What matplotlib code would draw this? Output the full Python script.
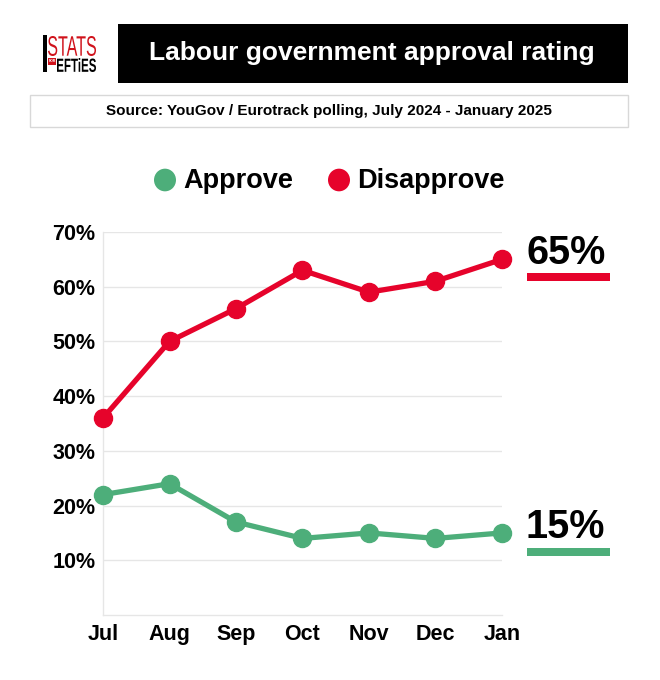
import matplotlib
matplotlib.use("Agg")
import matplotlib.pyplot as plt
from matplotlib.patches import Rectangle, PathPatch
from matplotlib.textpath import TextPath
from matplotlib.font_manager import FontProperties
from matplotlib.transforms import blended_transform_factory, Affine2D, IdentityTransform

months = ["Jul", "Aug", "Sep", "Oct", "Nov", "Dec", "Jan"]
approve = [22, 24, 17, 14, 15, 14, 15]
disapprove = [36, 50, 56, 63, 59, 61, 65]
yticks = [10, 20, 30, 40, 50, 60, 70]
ytick_labels = ["10%", "20%", "30%", "40%", "50%", "60%", "70%"]

RED = "#E6032B"
GREEN = "#4DAE7A"
LOGO_RED = "#D0121B"

plt.rcParams['font.family'] = ['Liberation Sans', 'DejaVu Sans']

W, H = 660, 680
fig = plt.figure(figsize=(6.6, 6.8), dpi=100)
fig.patch.set_facecolor("white")

def fx(px):
    return px / W

def fy(py):
    return 1 - py / H

def fitted_text(s, x0, y0, x1, y1, color, weight="normal"):
    """Draw text as a path squeezed into pixel box (top-left origin)."""
    fp = FontProperties(family="Liberation Sans", weight=weight)
    tp = TextPath((0, 0), s, size=10, prop=fp)
    ext = tp.get_extents()
    sx = (x1 - x0) / ext.width
    sy = (y1 - y0) / ext.height
    t = (Affine2D().translate(-ext.x0, -ext.y0).scale(sx, sy)
         .translate(x0, H - y1))
    patch = PathPatch(tp, transform=t + IdentityTransform(), facecolor=color,
                      edgecolor="none")
    fig.patches.append(patch)

# Title box
fig.patches.append(Rectangle((fx(118), fy(83)), fx(628) - fx(118), fy(24) - fy(83),
                             transform=fig.transFigure, facecolor="black", edgecolor="none"))
fig.text(fx(372), fy(53), "Labour government approval rating", color="white",
         fontsize=19, fontweight="bold", ha="center", va="center")

# Subtitle box
fig.patches.append(Rectangle((fx(30), fy(127)), fx(628) - fx(30), fy(95) - fy(127),
                             transform=fig.transFigure, facecolor="white", edgecolor="#d8d8d8", lw=1))
fig.text(fx(329), fy(111), "Source: YouGov / Eurotrack polling, July 2024 - January 2025",
         color="black", fontsize=11, fontweight="bold", ha="center", va="center")

# Logo
fig.patches.append(Rectangle((fx(43), fy(72)), fx(47) - fx(43), fy(35) - fy(72),
                             transform=fig.transFigure, facecolor="black", edgecolor="none"))
fitted_text("STATS", 48, 36, 96, 56, LOGO_RED)
fig.patches.append(Rectangle((fx(48), fy(65)), fx(56) - fx(48), fy(58) - fy(65),
                             transform=fig.transFigure, facecolor=LOGO_RED, edgecolor="none"))
fig.text(fx(52), fy(61.5), "FOR", color="white", fontsize=2.5, ha="center", va="center",
         fontweight="bold")
fitted_text("EFTiES", 57, 58, 96, 72, "black", weight="bold")

# Legend
fig.patches.append(plt.Circle((fx(165), fy(180)), 11 / W, transform=fig.transFigure,
                              facecolor=GREEN, edgecolor="none"))
fig.text(fx(183), fy(181), "Approve", fontsize=19.5, fontweight="bold", ha="left", va="center")
fig.patches.append(plt.Circle((fx(339), fy(180)), 11 / W, transform=fig.transFigure,
                              facecolor=RED, edgecolor="none"))
fig.text(fx(357), fy(181), "Disapprove", fontsize=19.5, fontweight="bold", ha="left", va="center")

# Axes
ax = fig.add_axes([fx(103), fy(615), fx(502) - fx(103), fy(232) - fy(615)])
x = list(range(len(months)))
ax.plot(x, disapprove, color=RED, lw=3.8, marker="o", markersize=13, clip_on=False, zorder=5)
ax.plot(x, approve, color=GREEN, lw=3.8, marker="o", markersize=13, clip_on=False, zorder=5)
ax.set_xlim(0, len(months) - 1)
ax.set_ylim(0, 70)
ax.set_yticks(yticks)
ax.set_yticklabels(ytick_labels)
ax.set_xticks(x)
ax.set_xticklabels(months)
ax.tick_params(axis="both", length=0, labelsize=15.5)
ax.tick_params(axis="y", pad=5.5)
ax.tick_params(axis="x", pad=6.5)
for lab in ax.get_xticklabels() + ax.get_yticklabels():
    lab.set_fontweight("bold")
ax.grid(axis="y", color="#e6e6e6", lw=1)
ax.set_axisbelow(True)
for s in ["top", "right"]:
    ax.spines[s].set_visible(False)
for s in ["left", "bottom"]:
    ax.spines[s].set_color("#e6e6e6")
    ax.spines[s].set_linewidth(1)

# End labels
tr = blended_transform_factory(fig.transFigure, ax.transData)
ax.text(fx(526), disapprove[-1] + 1.1, f"{disapprove[-1]}%", transform=tr, fontsize=28.5,
        fontweight="bold", ha="left", va="center", color="black")
ax.text(fx(526), approve[-1] + 1.1, f"{approve[-1]}%", transform=tr, fontsize=28.5,
        fontweight="bold", ha="left", va="center", color="black")
fig.patches.append(Rectangle((fx(527), fy(281)), fx(610) - fx(527), fy(273) - fy(281),
                             transform=fig.transFigure, facecolor=RED, edgecolor="none"))
fig.patches.append(Rectangle((fx(527), fy(556)), fx(610) - fx(527), fy(548) - fy(556),
                             transform=fig.transFigure, facecolor=GREEN, edgecolor="none"))

fig.savefig("out.png", dpi=100)
